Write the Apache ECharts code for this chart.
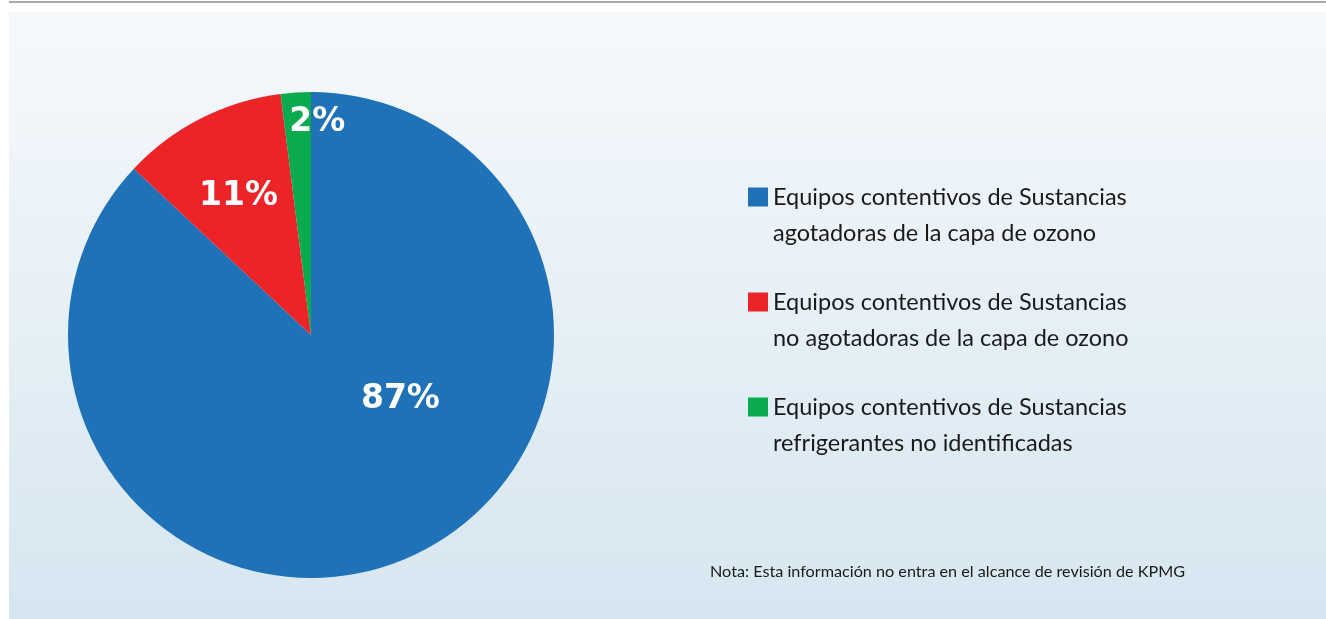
<!DOCTYPE html>
<html><head><meta charset="utf-8">
<script src="https://cdn.jsdelivr.net/npm/echarts@6/dist/echarts.min.js"></script>
<style>html,body{margin:0;padding:0;background:#fff;}#c{width:1326px;height:619px;}</style>
</head><body><div id="c"></div>
<script>
const categories = [
  'Equipos contentivos de Sustancias agotadoras de la capa de ozono',
  'Equipos contentivos de Sustancias no agotadoras de la capa de ozono',
  'Equipos contentivos de Sustancias refrigerantes no identificadas'
];
const values = [87, 11, 2];
const colors = ['#1f71b8', '#ec2327', '#0aab4f'];
const labelOffsets = [[40, -50], [-16, -28], [14, -88]];
const note = 'Nota: Esta información no entra en el alcance de revisión de KPMG';

const chart = echarts.init(document.getElementById('c'));
chart.setOption({
  animation: false,
  graphic: [
    { type: 'rect', shape: { x: 9, y: 1, width: 1317, height: 2 }, style: { fill: '#a9a9a9' }, z: -10 },
    { type: 'rect', shape: { x: 9, y: 12, width: 1317, height: 607 },
      style: { fill: new echarts.graphic.LinearGradient(0, 0, 0, 1, [
        { offset: 0, color: '#f6f9fc' }, { offset: 1, color: '#d6e6f0' }]) }, z: -10 },
    { type: 'text', left: 710, top: 564,
      style: { text: note, fill: '#1a1a1a', font: '16.2px Lato' } }
  ],
  legend: {
    orient: 'vertical',
    left: 748, top: 143,
    padding: 0,
    itemWidth: 20, itemHeight: 19,
    itemGap: -3,
    icon: 'rect',
    formatter: function (n) { return '\n' + n.replace(' Sustancias ', ' Sustancias\n'); },
    textStyle: { fontFamily: 'Lato', fontSize: 23.5, color: '#1a1a1a', lineHeight: 36 },
    data: categories
  },
  series: [{
    type: 'pie',
    center: [311, 335],
    radius: 243,
    startAngle: 90,
    clockwise: true,
    color: colors,
    itemStyle: { borderWidth: 0 },
    label: { position: 'inside', color: '#fff', fontFamily: 'DejaVu Sans', fontWeight: 'bold', fontSize: 33,
      formatter: function (p) { return p.value + '%'; } },
    labelLine: { show: false },
    emphasis: { disabled: true },
    data: categories.map(function (c, i) {
      return { name: c, value: values[i], label: { offset: labelOffsets[i] } };
    })
  }]
});
</script></body></html>
